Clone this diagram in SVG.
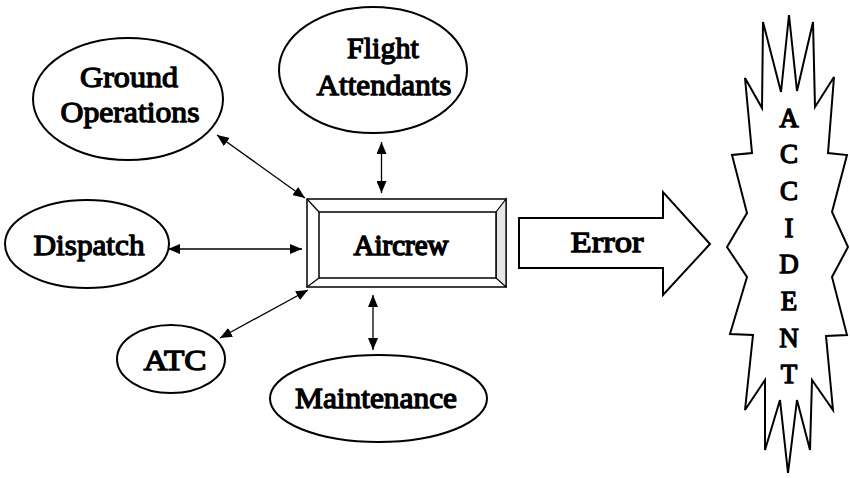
<svg xmlns="http://www.w3.org/2000/svg" width="850" height="478" viewBox="0 0 850 478">
  <defs>
    <marker id="head" viewBox="0 0 12 10" refX="12" refY="5" markerWidth="12" markerHeight="10" markerUnits="userSpaceOnUse" orient="auto-start-reverse">
      <path d="M0,0 L12,5 L0,10 Z" fill="#000"/>
    </marker>
  </defs>
  <style>
    /* serif labels, weight thickened with a thin outline */
    .node { fill: #fff; stroke: #000; stroke-width: 2; }
    .label { font-family: "Liberation Serif", serif; font-size: 30px; fill: #000; stroke: #000; stroke-width: 1.3; stroke-linejoin: round; text-anchor: middle; }
    .big { font-size: 27px; }
    .link { stroke: #000; stroke-width: 1.3; fill: none; marker-start: url(#head); marker-end: url(#head); }
    .frame { fill: #fff; stroke: #000; stroke-width: 1.5; }
  </style>
  <rect width="850" height="478" fill="#fff"/>

  <g id="ground-operations">
    <ellipse class="node" cx="128" cy="99" rx="95" ry="61"/>
    <text class="label" font-family="Liberation Serif" x="129" y="87" textLength="98" lengthAdjust="spacingAndGlyphs">Ground</text>
    <text class="label" font-family="Liberation Serif" x="130" y="122" textLength="139" lengthAdjust="spacingAndGlyphs">Operations</text>
  </g>

  <g id="flight-attendants">
    <ellipse class="node" cx="373" cy="70" rx="94" ry="63"/>
    <text class="label" font-family="Liberation Serif" x="383" y="58" textLength="72" lengthAdjust="spacingAndGlyphs">Flight</text>
    <text class="label" font-family="Liberation Serif" x="384" y="95" textLength="135" lengthAdjust="spacingAndGlyphs">Attendants</text>
  </g>

  <g id="dispatch">
    <ellipse class="node" cx="87" cy="244" rx="82" ry="44"/>
    <text class="label" font-family="Liberation Serif" x="89" y="255" textLength="111" lengthAdjust="spacingAndGlyphs">Dispatch</text>
  </g>

  <g id="atc">
    <ellipse class="node" cx="171" cy="359" rx="54" ry="34"/>
    <text class="label" font-family="Liberation Serif" x="175" y="370" textLength="63" lengthAdjust="spacingAndGlyphs">ATC</text>
  </g>

  <g id="maintenance">
    <ellipse class="node" cx="378.5" cy="398.5" rx="108.5" ry="43.5"/>
    <text class="label" font-family="Liberation Serif" x="376" y="408" textLength="162" lengthAdjust="spacingAndGlyphs">Maintenance</text>
  </g>

  <g id="aircrew">
    <!-- beveled frame -->
    <rect class="frame" x="307" y="199" width="199" height="88" stroke-width="2"/>
    <polygon points="496,212 506,199 506,287 496,278" fill="#e6e6e6" stroke="#000" stroke-width="1.2"/>
    <line x1="307" y1="199" x2="319" y2="212" stroke="#000" stroke-width="1.2"/>
    <line x1="307" y1="287" x2="319" y2="278" stroke="#000" stroke-width="1.2"/>
    <rect class="frame" x="319" y="212" width="177" height="66" stroke-width="1.5"/>
    <text class="label" font-family="Liberation Serif" x="401" y="255" stroke-width="1.6" textLength="95" lengthAdjust="spacingAndGlyphs" style="stroke-width:1.6px">Aircrew</text>
  </g>

  <g id="error">
    <polygon class="node" points="519,218 663,218 663,192 710,244 663,295 663,268 519,268" stroke-width="1.8"/>
    <text class="label" font-family="Liberation Serif" x="607" y="252" textLength="73" lengthAdjust="spacingAndGlyphs">Error</text>
  </g>

  <g id="accident">
    <polygon class="node" stroke-width="3" stroke-linejoin="miter" points="727,247 747,213 732,155 752,153 745,78 762,108 763,22 781,92 789,15 797,91 813,22 815,107 834,77 828,153 847,155 832,212 848,247 832,277 847,335 826,336 833,410 812,380 810,450 797,400 788,473 780,400 765,450 765,380 745,410 753,335 730,334 747,277"/>
    <text class="label big" font-family="Liberation Serif" x="789" y="127">A</text>
    <text class="label big" font-family="Liberation Serif" x="789" y="163">C</text>
    <text class="label big" font-family="Liberation Serif" x="789" y="200">C</text>
    <text class="label big" font-family="Liberation Serif" x="789" y="237">I</text>
    <text class="label big" font-family="Liberation Serif" x="789" y="273">D</text>
    <text class="label big" font-family="Liberation Serif" x="789" y="310">E</text>
    <text class="label big" font-family="Liberation Serif" x="789" y="347">N</text>
    <text class="label big" font-family="Liberation Serif" x="789" y="383">T</text>
  </g>

  <g id="connectors">
    <line class="link" x1="217" y1="135" x2="305" y2="198"/>
    <line class="link" x1="381.5" y1="142" x2="381.5" y2="193"/>
    <line class="link" x1="168" y1="249" x2="302" y2="249"/>
    <line class="link" x1="220" y1="338" x2="308" y2="290"/>
    <line class="link" x1="373" y1="295" x2="373" y2="350"/>
  </g>
</svg>
